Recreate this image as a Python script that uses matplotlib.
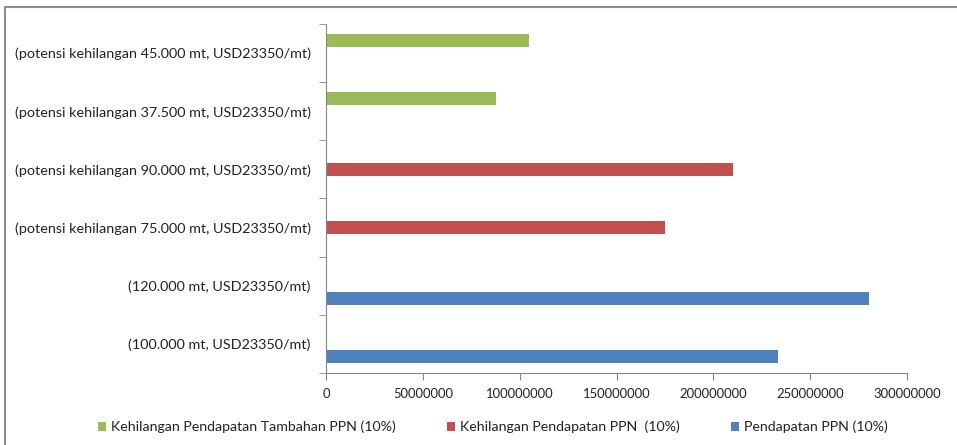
import matplotlib.pyplot as plt
import numpy as np
from matplotlib.patches import Rectangle

plt.rcParams['font.family'] = ['Lato', 'DejaVu Sans']

categories = [
    '(100.000 mt, USD23350/mt)',
    '(120.000 mt, USD23350/mt)',
    '(potensi kehilangan 75.000 mt, USD23350/mt)',
    '(potensi kehilangan 90.000 mt, USD23350/mt)',
    '(potensi kehilangan 37.500 mt, USD23350/mt)',
    '(potensi kehilangan 45.000 mt, USD23350/mt)',
]
pendapatan = [233500000, 280200000, 0, 0, 0, 0]
kehilangan = [0, 0, 175125000, 210150000, 0, 0]
tambahan = [0, 0, 0, 0, 87562500, 105075000]

series = [
    ('Pendapatan PPN (10%)', pendapatan, '#4F81BD'),
    ('Kehilangan Pendapatan PPN  (10%)', kehilangan, '#C0504D'),
    ('Kehilangan Pendapatan Tambahan PPN (10%)', tambahan, '#9BBB59'),
]

fig = plt.figure(figsize=(9.57, 4.45), dpi=100)
ax = fig.add_axes([326 / 957, 1 - 373 / 445, 581 / 957, 349 / 445])

y = np.arange(len(categories))
w = 1 / 4.5
handles = []
for i, (name, vals, col) in enumerate(series):
    h = ax.barh(y + (i - 1) * w, vals, height=w, color=col, label=name)
    handles.append(h)

ax.set_ylim(-0.5, len(categories) - 0.5)
ax.set_xlim(0, 300000000)
ax.set_xticks(np.arange(0, 300000001, 50000000))
ax.set_xticklabels(['%d' % v for v in np.arange(0, 300000001, 50000000)])
ax.set_yticks(y)
ax.set_yticklabels(categories)
ax.set_yticks(np.arange(-0.5, len(categories), 1), minor=True)
ax.tick_params(axis='y', which='major', length=0, pad=11, labelsize=10.4, colors='#222222')
ax.tick_params(axis='y', which='minor', length=5, color='#868686', direction='out')
ax.tick_params(axis='x', length=5, color='#868686', pad=6, labelsize=9.4, labelcolor='#222222')
for s in ['top', 'right']:
    ax.spines[s].set_visible(False)
for s in ['left', 'bottom']:
    ax.spines[s].set_color('#868686')

leg = fig.legend(handles=handles[::-1], loc='center', bbox_to_anchor=(0.515, 1 - 427 / 445),
                 ncol=3, frameon=False, fontsize=10.2, handlelength=0.6, handleheight=0.6,
                 columnspacing=3.6, handletextpad=0.35)
for t in leg.get_texts():
    t.set_color('#222222')

fig.patches.append(Rectangle((5 / 957, -0.1), 1.1, 1.1 - 7 / 445, transform=fig.transFigure,
                             fill=False, edgecolor='#8c8c8c', linewidth=1.5))

fig.savefig('out.png', dpi=100)
